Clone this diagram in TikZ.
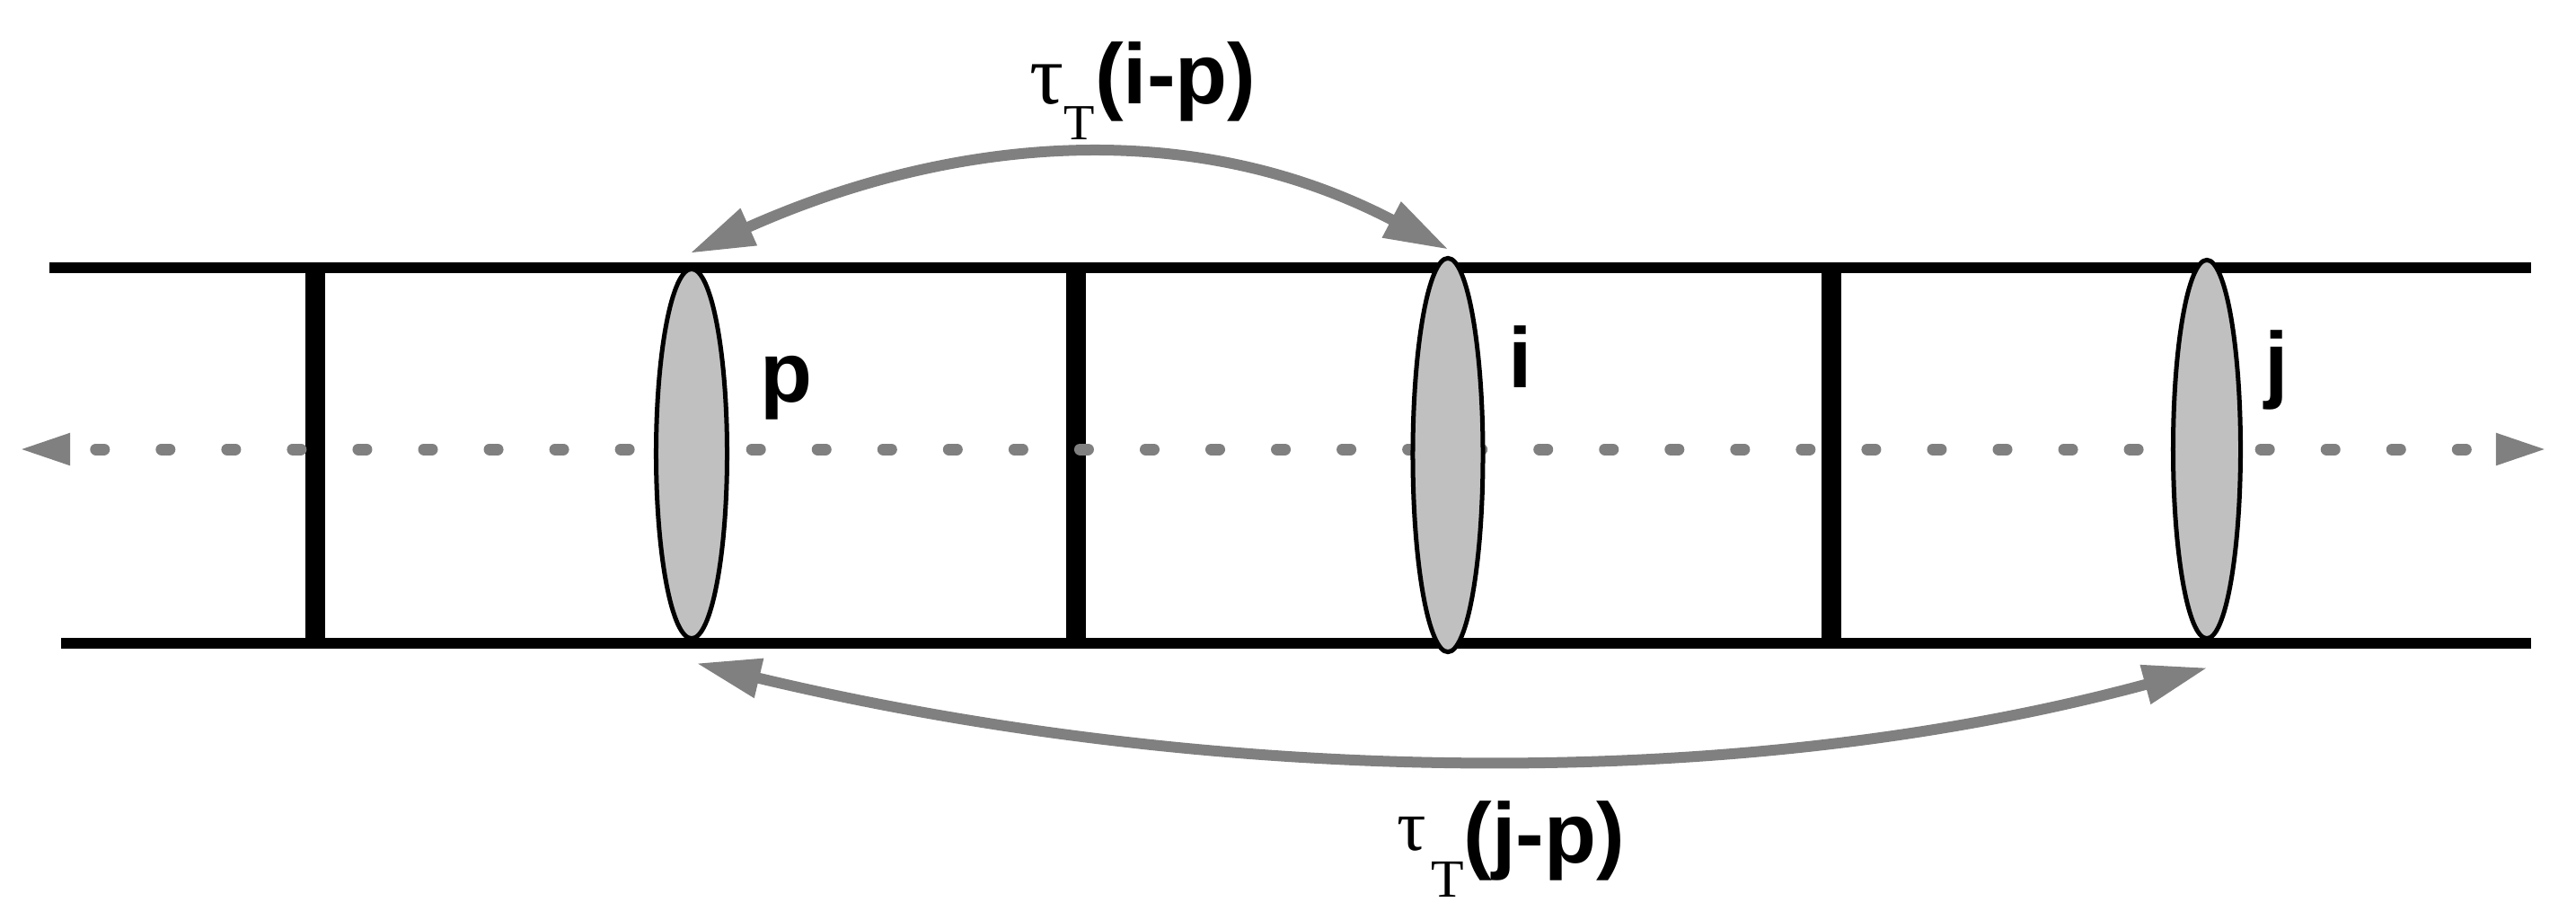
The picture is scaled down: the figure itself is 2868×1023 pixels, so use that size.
\documentclass[tikz,border=0pt]{standalone}
\usepackage{fontspec}
\setmainfont{Liberation Sans}
\newfontfamily\serifT{Liberation Serif}
\usetikzlibrary{arrows.meta,shapes.geometric,calc}
\definecolor{arcgray}{RGB}{128,128,128}
\definecolor{lensgray}{RGB}{192,192,192}
\begin{document}
\begin{tikzpicture}[x=0.01cm,y=-0.01cm,
  rail/.style={line width=0.12cm},
  rung/.style={line width=0.22cm},
  lens/.style={ellipse,draw,fill=lensgray,line width=0.05cm,inner sep=0pt},
  axisline/.style={draw=arcgray,line width=0.13cm,line cap=round,
    dash pattern=on 0.09cm off 0.64cm,dash phase=0.41cm,
    {Triangle[length=0.58cm,width=0.32cm]}-{Triangle[length=0.58cm,width=0.32cm]}},
  corr/.style={draw=arcgray,line width=0.12cm,
    {Triangle[length=0.72cm,width=0.42cm]}-{Triangle[length=0.72cm,width=0.42cm]}},
  lbl/.style={font=\bfseries\fontsize{27pt}{30pt}\selectfont,inner sep=0pt,anchor=base west}]
\useasboundingbox (0,0) rectangle (2868,1023);
\fill[white] (0,0) rectangle (2868,1023);
% rails
\coordinate (tl) at (55,297.5);
\coordinate (tr) at (2818,297.5);
\coordinate (bl) at (68,716);
\coordinate (br) at (2818,716);
\draw[rail] (tl) -- (tr);
\draw[rail] (bl) -- (br);
% rungs
\foreach \n/\x in {1/351,2/1198,3/2039}{
  \coordinate (r\n t) at (\x,297.5);
  \coordinate (r\n b) at (\x,716);
  \draw[rung] (r\n t) -- (r\n b);
}
% axis
\coordinate (axw) at (20,500);
\coordinate (axe) at (2837,500);
\draw[axisline] (axw) -- (axe);
% lenses
\node[lens,minimum width=0.79cm,minimum height=4.11cm] (ep) at (770,505) {};
\node[lens,minimum width=0.78cm,minimum height=4.38cm] (ei) at (1612,506.5) {};
\node[lens,minimum width=0.75cm,minimum height=4.21cm] (ej) at (2457,500) {};
% correlation arcs
\coordinate (pt) at ($(ep.north)+(-2,-15)$);
\coordinate (it) at ($(ei.north)+(1,-7)$);
\coordinate (pb) at ($(ep.south)+(5,25)$);
\coordinate (jb) at ($(ej.south)+(1,30)$);
\draw[corr] (pt) .. controls +(293,-131) and +(-284,-149) .. (it);
\draw[corr] (pb) .. controls +(548,131) and +(-543,147) .. (jb);
% labels
\node[lbl] (lp) at (846,447) {p};
\node[lbl] (li) at (1679,431) {i};
\node[lbl] (lj) at (2521,436) {j};
\node[lbl] (ltop) at (1146,115) {{\mdseries\serifT τ}\raisebox{-0.40cm}{\mdseries\serifT\fontsize{16pt}{16pt}\selectfont T}(i-p)};
\node[lbl] (lbot) at (1555,960) {\raisebox{0.14cm}{\mdseries\serifT\fontsize{23pt}{23pt}\selectfont τ}\kern0.05cm\raisebox{-0.38cm}{\mdseries\serifT\fontsize{17pt}{17pt}\selectfont T}(j-p)};
\end{tikzpicture}
\end{document}
